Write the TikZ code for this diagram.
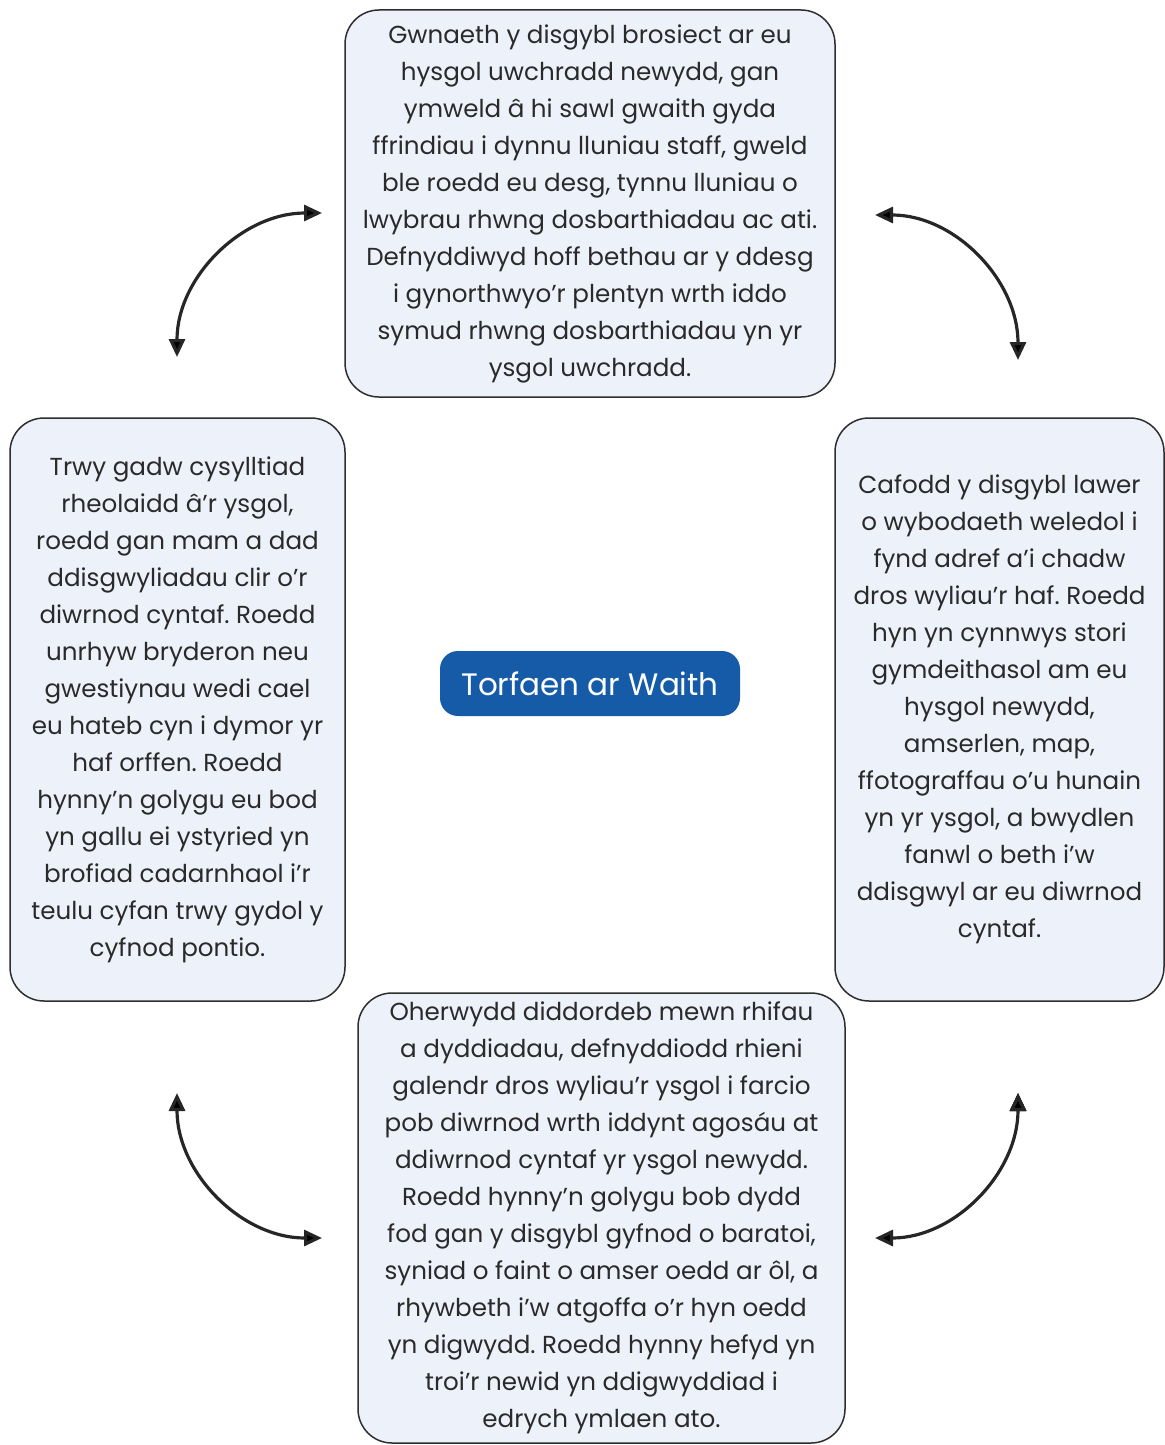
\documentclass[tikz,border=0pt]{standalone}
\usepackage{fontspec}
\setmainfont{Poppins}
\usetikzlibrary{arrows.meta}
\frenchspacing

\definecolor{boxfill}{HTML}{EDF1F9}
\definecolor{boxline}{HTML}{2E2E2E}
\definecolor{hubblue}{HTML}{155BA8}
\definecolor{textgrey}{HTML}{2A2A2A}

\tikzset{
  infobox/.style={draw=boxline, line width=0.75pt, fill=boxfill, rounded corners=17pt,
    align=center, text=textgrey, inner sep=0pt, font=\fontsize{12.3}{18.5}\selectfont},
  hub/.style={fill=hubblue, rounded corners=9pt, text=white, inner sep=0pt,
    minimum width=150pt, minimum height=32.5pt, font=\fontsize{15.5}{20}\selectfont},
  turnarrow/.style={<->, >={Triangle[length=9pt,width=8pt]}, line width=1.6pt, draw=black!85}
}

\begin{document}
\begin{tikzpicture}[x=0.5pt,y=0.5pt]
  \useasboundingbox (0,0) rectangle (1165,-1445);

  \node[infobox, minimum width=245pt, minimum height=193.5pt] (top) at (590,-203.5)
    {Gwnaeth y disgybl brosiect ar eu\\hysgol uwchradd newydd, gan\\ymweld â hi sawl gwaith gyda\\
     ffrindiau i dynnu lluniau staff, gweld\\ble roedd eu desg, tynnu lluniau o\\
     lwybrau rhwng dosbarthiadau ac ati.\\Defnyddiwyd hoff bethau ar y ddesg\\
     i gynorthwyo’r plentyn wrth iddo\\symud rhwng dosbarthiadau yn yr\\ysgol uwchradd.};
  \node[infobox, minimum width=164.5pt, minimum height=291.5pt] (right) at (999.5,-709.5)
    {Cafodd y disgybl lawer\\o wybodaeth weledol i\\fynd adref a’i chadw\\dros wyliau’r haf. Roedd\\
     hyn yn cynnwys stori\\gymdeithasol am eu\\hysgol newydd,\\amserlen, map,\\
     ffotograffau o’u hunain\\yn yr ysgol, a bwydlen\\fanwl o beth i’w\\ddisgwyl ar eu diwrnod\\cyntaf.};
  \node[infobox, minimum width=243.5pt, minimum height=225pt] (bottom) at (601.5,-1218)
    {Oherwydd diddordeb mewn rhifau\\a dyddiadau, defnyddiodd rhieni\\galendr dros wyliau’r ysgol i farcio\\
     pob diwrnod wrth iddynt agosáu at\\ddiwrnod cyntaf yr ysgol newydd.\\Roedd hynny’n golygu bob dydd\\
     fod gan y disgybl gyfnod o baratoi,\\syniad o faint o amser oedd ar ôl, a\\
     rhywbeth i’w atgoffa o’r hyn oedd\\yn digwydd. Roedd hynny hefyd yn\\troi’r newid yn ddigwyddiad i\\
     edrych ymlaen ato.};
  \node[infobox, minimum width=167.5pt, minimum height=291.5pt] (left) at (177.5,-709.5)
    {Trwy gadw cysylltiad\\rheolaidd â’r ysgol,\\roedd gan mam a dad\\ddisgwyliadau clir o’r\\
     diwrnod cyntaf. Roedd\\unrhyw bryderon neu\\gwestiynau wedi cael\\eu hateb cyn i dymor yr\\
     haf orffen. Roedd\\hynny’n golygu eu bod\\yn gallu ei ystyried yn\\brofiad cadarnhaol i’r\\
     teulu cyfan trwy gydol y\\cyfnod pontio.};
  \node[hub] (hub) at (590,-683.5) {Torfaen ar Waith};

  % arrow ends
  \coordinate (tl-a) at (177,-357);  \coordinate (tl-b) at (322,-213);
  \coordinate (tr-a) at (875,-215);  \coordinate (tr-b) at (1018,-360);
  \coordinate (bl-a) at (177,-1093); \coordinate (bl-b) at (322,-1238);
  \coordinate (br-a) at (1018,-1093); \coordinate (br-b) at (875,-1238);

  \path[turnarrow]
    (tl-a) edge[out=90, in=180] (tl-b)
    (tr-a) edge[out=0, in=90] (tr-b)
    (bl-a) edge[out=-90, in=180] (bl-b)
    (br-a) edge[out=-90, in=0] (br-b);
\end{tikzpicture}
\end{document}
